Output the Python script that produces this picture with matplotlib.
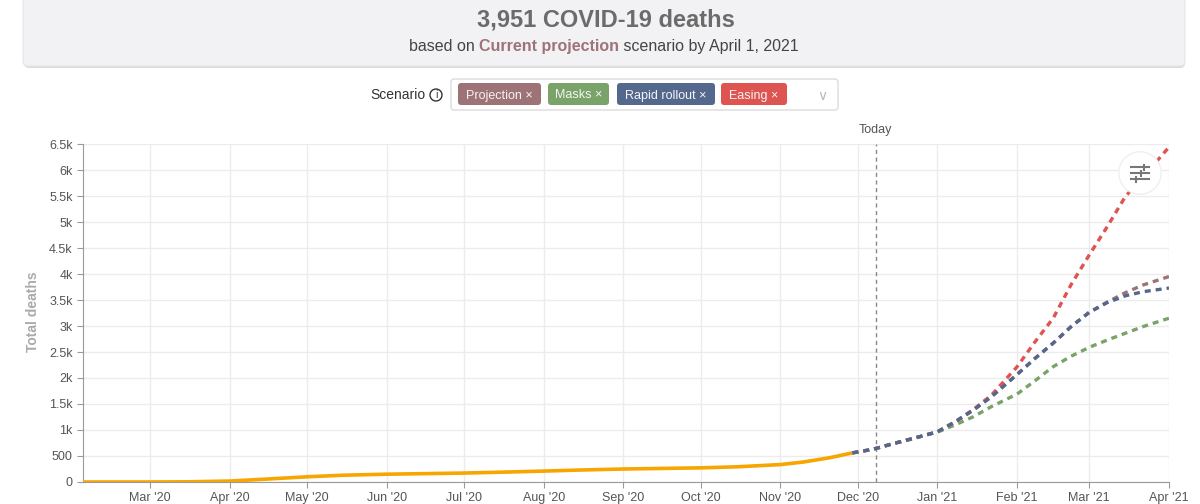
import matplotlib
matplotlib.use("Agg")
import matplotlib.pyplot as plt
import matplotlib.dates as mdates
from matplotlib.patches import FancyBboxPatch, Circle
import pandas as pd

plt.rcParams['font.family'] = ['Liberation Sans', 'DejaVu Sans']

# ── data ──────────────────────────────────────────────────
obs_dates = ["2020-02-04", "2020-03-01", "2020-03-15", "2020-04-01", "2020-04-15",
             "2020-05-01", "2020-05-15", "2020-06-01", "2020-06-15", "2020-07-01",
             "2020-07-15", "2020-08-01", "2020-08-15", "2020-09-01", "2020-09-15",
             "2020-10-01", "2020-10-15", "2020-11-01", "2020-11-10", "2020-11-20",
             "2020-11-29"]
obs_deaths = [0, 0, 3, 18, 55, 100, 130, 150, 160, 172, 188, 210, 230, 250, 260,
              272, 292, 335, 385, 465, 560]

proj_dates = ["2020-11-29", "2020-12-07", "2020-12-15", "2020-12-22", "2021-01-01",
              "2021-01-08", "2021-01-15", "2021-01-22", "2021-02-01", "2021-02-08",
              "2021-02-15", "2021-02-22", "2021-03-01", "2021-03-08", "2021-03-15",
              "2021-03-22", "2021-04-01"]
projection = [560, 630, 740, 830, 965, 1160, 1385, 1640, 2070, 2380, 2670, 2990,
              3265, 3460, 3640, 3790, 3951]
masks = [560, 630, 740, 830, 960, 1100, 1256, 1450, 1692, 1950, 2218, 2420,
         2590, 2730, 2860, 2990, 3150]
rapid = [560, 630, 740, 830, 965, 1160, 1385, 1640, 2070, 2380, 2670, 2990,
         3260, 3450, 3580, 3660, 3730]
easing = [560, 630, 740, 830, 965, 1160, 1395, 1670, 2218, 2700, 3150, 3800,
          4365, 4910, 5487, 5870, 6440]

scenario_names = ["Projection", "Masks", "Rapid rollout", "Easing"]
scenario_colors = ["#9e7377", "#7aa36a", "#54688d", "#de5450"]
today = "2020-12-08"

obs_dates = pd.to_datetime(obs_dates)
proj_dates = pd.to_datetime(proj_dates)

# ── figure ────────────────────────────────────────────────
fig = plt.figure(figsize=(12, 5.04), dpi=100)
ax = fig.add_axes([83 / 1200, 1 - 482 / 504, (1169 - 83) / 1200, (482 - 144) / 504])

ax.plot(obs_dates, obs_deaths, color="#f7a500", lw=2.6, solid_capstyle="round", zorder=3)

dash = (0, (1.8, 1.5))
series = {"Easing": easing, "Masks": masks, "Projection": projection, "Rapid rollout": rapid}
for name, vals in series.items():
    c = scenario_colors[scenario_names.index(name)]
    ax.plot(proj_dates, vals, color=c, lw=2.4, linestyle=dash, zorder=3)

ax.axvline(pd.Timestamp(today), color="#888888", lw=1, linestyle=(0, (3, 2.5)), zorder=2)

ax.set_xlim(pd.Timestamp("2020-02-04"), pd.Timestamp("2021-04-01"))
ax.set_ylim(0, 6500)
ax.set_yticks(range(0, 6501, 500))
ax.yaxis.set_major_formatter(plt.FuncFormatter(
    lambda v, _: "0" if v == 0 else (f"{int(v)}" if v < 1000 else f"{v / 1000:g}k")))
ax.xaxis.set_major_locator(mdates.MonthLocator(bymonthday=1))
ax.xaxis.set_major_formatter(mdates.DateFormatter("%b '%y"))

ax.grid(True, color="#ececec", lw=1)
ax.set_axisbelow(True)
for s in ("top", "right"):
    ax.spines[s].set_visible(False)
for s in ("left", "bottom"):
    ax.spines[s].set_color("#9a9a9a")
ax.tick_params(axis="both", colors="#9a9a9a", length=4, labelcolor="#555555", labelsize=9)

# ── overlay for header / controls ─────────────────────────
ov = fig.add_axes([0, 0, 1, 1], facecolor="none")
ov.set_xlim(0, 1200)
ov.set_ylim(504, 0)
ov.axis("off")

ov.add_patch(FancyBboxPatch((24, -10), 1161, 78, boxstyle="round,pad=0,rounding_size=5",
                            fc="#dcdcdc", ec="none", zorder=1))
ov.add_patch(FancyBboxPatch((23, -10), 1162, 76, boxstyle="round,pad=0,rounding_size=5",
                            fc="#f2f2f4", ec="#e6e6e6", lw=0.8, zorder=2))
ov.text(606, 27, "3,951 COVID-19 deaths", ha="center", va="baseline", fontsize=17,
        fontweight="bold", color="#6b6b6b", zorder=3)

renderer = fig.canvas.get_renderer()
parts = [("based on ", "normal", "#444444"), ("Current projection", "bold", "#9e7377"),
         (" scenario by April 1, 2021", "normal", "#444444")]
texts = [ov.text(0, 51, p, ha="left", va="baseline", fontsize=11.5, fontweight=w, color=c,
                 zorder=3)
         for p, w, c in parts]
widths = [t.get_window_extent(renderer).width for t in texts]
x = 604 - sum(widths) / 2
for t, w in zip(texts, widths):
    t.set_x(x)
    x += w

# scenario selector
ov.text(425, 99, "Scenario", ha="right", va="baseline", fontsize=10, color="#333333")
ov.add_patch(Circle((436, 95), 6, fc="none", ec="#333333", lw=1))
ov.text(436, 95.5, "i", ha="center", va="center", fontsize=7.5, color="#333333")
ov.add_patch(FancyBboxPatch((451, 79), 387, 31, boxstyle="round,pad=0,rounding_size=3",
                            fc="white", ec="#dcdcdc", lw=1))
chip_x = [(458, 541), (548, 609), (617, 715), (721, 787)]
for (x0, x1), name, c in zip(chip_x, scenario_names, scenario_colors):
    ov.add_patch(FancyBboxPatch((x0, 83), x1 - x0, 22, boxstyle="round,pad=0,rounding_size=3",
                                fc=c, ec="none"))
    ov.text((x0 + x1) / 2, 98.5, f"{name} \u00d7", ha="center", va="baseline",
            fontsize=9, color="#f4f4f4")
ov.text(822, 96, "\u2228", ha="center", va="center", fontsize=10, color="#bbbbbb")

# today label and y label
ov.text(875, 130, "Today", ha="center", va="center", fontsize=9, color="#555555")
ov.text(33, 312, "Total deaths", ha="center", va="center", rotation=90, fontsize=10,
        fontweight="bold", color="#aaaaaa")

# settings button
ov.add_patch(Circle((1140, 173), 22, fc="#f0f0f0", ec="none", zorder=4))
ov.add_patch(Circle((1140, 173), 20.5, fc="white", ec="none", zorder=5))
for yy, kx in ((167, 1144), (173, 1141), (179, 1136)):
    ov.plot([1131, 1149], [yy, yy], color="#777777", lw=1.5, zorder=6)
    ov.plot([kx, kx], [yy - 2.5, yy + 2.5], color="#777777", lw=1.5, zorder=6)

fig.savefig("out.png", dpi=100)
plt.close(fig)
